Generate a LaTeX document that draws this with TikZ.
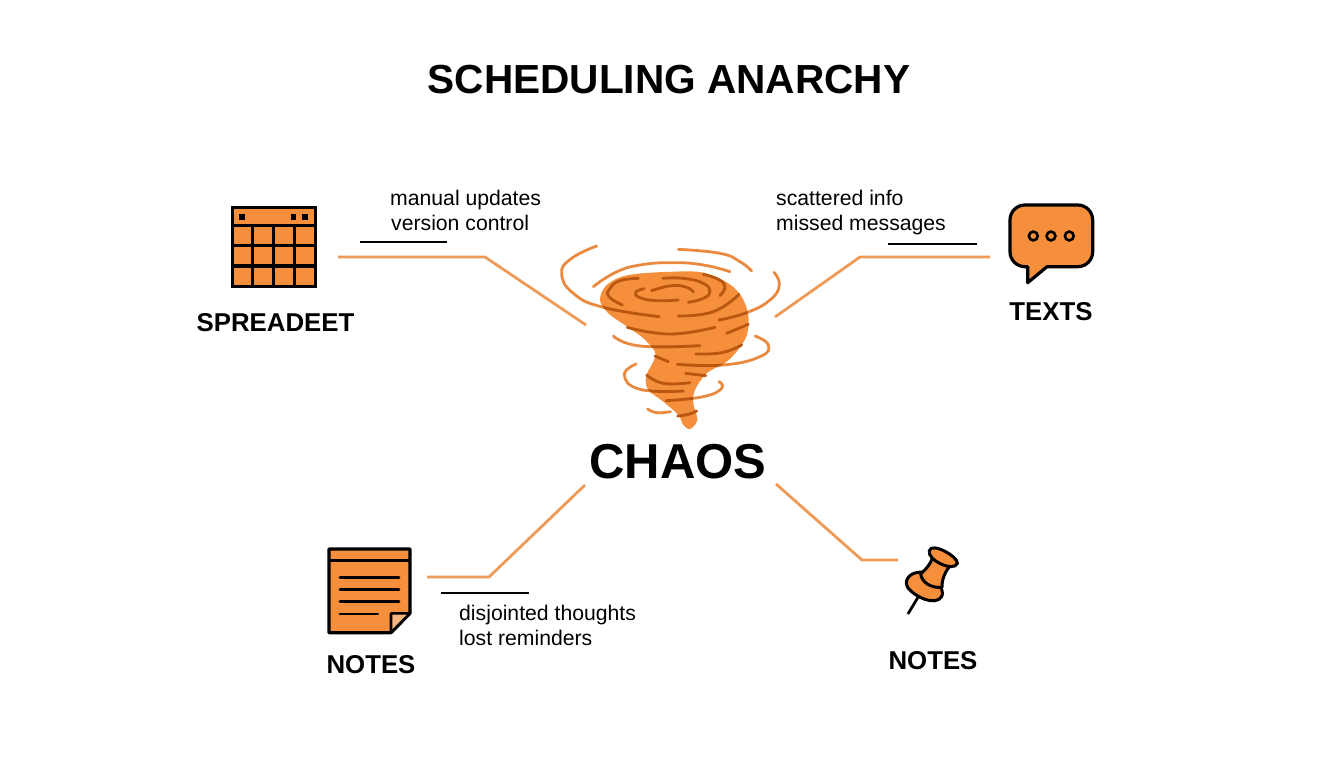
\documentclass[tikz,border=0pt]{standalone}
\usepackage{fontspec}
\setmainfont{Liberation Sans}
\definecolor{icon}{HTML}{F58F3B}
\definecolor{wire}{HTML}{F09A57}
\definecolor{gust}{HTML}{E98A40}
\definecolor{streak}{HTML}{B9560F}
\definecolor{fold}{HTML}{F4B57F}
\def\fnt#1{\fontsize{#1}{#1}\selectfont}

% outline of the funnel and its swirling lines, in crop pixels
\def\funnelpath{plot[smooth cycle,tension=0.55] coordinates {(400,125) (490,128) (565,160) (605,200) (625,255) (622,310) (600,352) (560,395) (500,430) (465,480) (460,520) (472,570) (450,597) (430,585) (415,555) (370,515) (325,480) (318,440) (342,390) (345,365) (310,325) (262,290) (205,250) (180,210) (200,165) (265,135)}}
\def\swirlpath{
  plot[smooth,tension=0.8] coordinates {(170,48) (95,85) (65,130) (100,190) (190,232) (358,260)}
  plot[smooth,tension=0.8] coordinates {(160,170) (225,128) (300,105) (400,98) (490,105) (570,125)}
  plot[smooth,tension=0.8] coordinates {(415,58) (540,70) (600,95) (635,123)}
  plot[smooth,tension=0.8] coordinates {(702,127) (718,165) (690,210) (620,248) (537,270)}
  plot[smooth,tension=0.8] coordinates {(645,318) (685,345) (660,380) (550,405) (412,403)}
  plot[smooth,tension=0.8] coordinates {(220,318) (300,348) (480,347)}
  plot[smooth,tension=0.8] coordinates {(288,402) (253,435) (300,478) (430,483)}
  plot[smooth,tension=0.8] coordinates {(537,455) (545,475) (490,500) (378,512)}
  plot[smooth,tension=0.8] coordinates {(323,537) (350,548) (392,545)}
}

\begin{document}
\begin{tikzpicture}[
    x=1pt,y=-1pt,
    wirelink/.style={wire,line width=2.8pt,line join=round},
    rule/.style={black,line width=2.4pt},
    iconline/.style={black,line width=3.2pt,line join=round},
    noteline/.style={black,line width=2.8pt,line cap=round},
    swirl/.style={gust,line width=2.8pt,line cap=round},
    darkswirl/.style={streak,line width=2.8pt,line cap=round},
    heading/.style={font=\fnt{25.8}\bfseries,inner sep=0pt},
    remark/.style={font=\fnt{21.2},inner sep=0pt,anchor=base west}]

  \useasboundingbox (0,0) rectangle (1344,768);

  \node[font=\fnt{40.6}\bfseries,inner sep=0pt] (title) at (669,80) {SCHEDULING ANARCHY};
  \node[font=\fnt{49}\bfseries,inner sep=0pt] (chaos) at (678,462) {CHAOS};

  \node[heading] (sheetlabel) at (275.5,323) {SPREADEET};
  \node[heading] (textlabel) at (1051,312) {TEXTS};
  \node[heading] (notelabel) at (371,665) {NOTES};
  \node[heading] (pinlabel) at (933,661) {NOTES};

  \node[remark] (manual) at (390,205) {manual updates};
  \node[remark] (version) at (391,230) {version control};
  \node[remark] (scattered) at (776,205) {scattered info};
  \node[remark] (missed) at (776,230) {missed messages};
  \node[remark] (disjointed) at (459,620) {disjointed thoughts};
  \node[remark] (lost) at (459,645) {lost reminders};

  % connectors
  \coordinate (sheetA) at (338,257);
  \coordinate (sheetB) at (485,257);
  \coordinate (sheetC) at (586,325);
  \coordinate (textA) at (990,257);
  \coordinate (textB) at (860,257);
  \coordinate (textC) at (775,317);
  \coordinate (noteA) at (427,577);
  \coordinate (noteB) at (489,577);
  \coordinate (noteC) at (585,485);
  \coordinate (pinA) at (898,560);
  \coordinate (pinB) at (862,560);
  \coordinate (pinC) at (776,484);

  \draw[wirelink] (sheetA) -- (sheetB) -- (sheetC);
  \draw[wirelink] (textA) -- (textB) -- (textC);
  \draw[wirelink] (noteA) -- (noteB) -- (noteC);
  \draw[wirelink] (pinA) -- (pinB) -- (pinC);

  \coordinate (ruleA) at (360,242);
  \coordinate (ruleB) at (447,242);
  \coordinate (ruleC) at (888,244);
  \coordinate (ruleD) at (977,244);
  \coordinate (ruleE) at (441,593);
  \coordinate (ruleF) at (529,593);

  \draw[rule] (ruleA) -- (ruleB);
  \draw[rule] (ruleC) -- (ruleD);
  \draw[rule] (ruleE) -- (ruleF);

  % tornado
  \begin{scope}[shift={(540,230)},x=1/3*1pt,y=-1/3*1pt]
    \fill[icon] \funnelpath;
    \draw[swirl] \swirlpath;
    \begin{scope}
      \clip \funnelpath;
      \draw[darkswirl] \swirlpath;
    \end{scope}
    \draw[darkswirl]
      plot[smooth,tension=0.8] coordinates {(295,145) (240,152) (210,175) (207,200) (247,225)}
      plot[smooth,tension=0.8] coordinates {(368,145) (430,145) (490,160) (510,185) (490,205) (445,217)}
      plot[smooth,tension=0.8] coordinates {(490,133) (535,148) (555,170) (540,197)}
      plot[smooth,tension=0.8] coordinates {(312,176) (287,187) (300,203) (350,212) (415,210)}
      plot[smooth,tension=0.8] coordinates {(335,182) (395,167) (440,172) (460,186)}
      plot[smooth,tension=0.8] coordinates {(415,258) (520,245) (597,193)}
      plot[smooth,tension=0.8] coordinates {(262,292) (390,312) (525,292)}
      plot[smooth,tension=0.8] coordinates {(560,310) (625,283)}
      plot[smooth,tension=0.8] coordinates {(467,372) (545,368) (605,345)}
      plot[smooth,tension=0.8] coordinates {(345,378) (385,395)}
      plot[smooth,tension=0.8] coordinates {(437,430) (497,437)}
      plot[smooth,tension=0.8] coordinates {(320,435) (370,460) (450,458)}
      plot[smooth,tension=0.8] coordinates {(413,558) (445,553) (470,543)};
  \end{scope}

  % spreadsheet
  \filldraw[icon,draw=black,line width=3.2pt] (232.3,207.3) rectangle (315.7,286.7);
  \draw[iconline]
    (232.3,225.7) -- (315.7,225.7)
    (232.3,245.7) -- (315.7,245.7)
    (232.3,266) -- (315.7,266)
    (252.7,225.7) -- (252.7,286.7)
    (273.3,225.7) -- (273.3,286.7)
    (294.3,225.7) -- (294.3,286.7);
  \fill[black] (239,214) rectangle +(5.5,5.5);
  \fill[black] (290.5,214) rectangle +(5.5,5.5);
  \fill[black] (302,214) rectangle +(5.5,5.5);

  % speech bubble
  \filldraw[icon,draw=black,line width=3.2pt,line join=round,rounded corners=15pt]
    (1047,266.7) -- (1092.7,266.7) -- (1092.7,205) -- (1010,205) -- (1010,266.7)
    [sharp corners] -- (1027.7,266.7) -- (1027.7,282.7) -- cycle;
  \draw[black,line width=2.6pt]
    (1033.3,236) circle [radius=4.4]
    (1051,236) circle [radius=4.4]
    (1069.3,236) circle [radius=4.4];

  % note
  \filldraw[icon,draw=black,line width=3.2pt,line join=round]
    (329,549) -- (410,549) -- (410,613.3) -- (391,632.7) -- (329,632.7) -- cycle;
  \filldraw[fold,draw=black,line width=2.6pt,line join=round]
    (410,613.3) -- (391,613.3) -- (391,632.7) -- cycle;
  \draw[iconline]
    (329,560.7) -- (410,560.7);
  \draw[noteline]
    (340,577.3) -- (399,577.3)
    (340,589.3) -- (399,589.3)
    (340,601.7) -- (399,601.7)
    (340,614) -- (377.7,614);

  % push pin
  \begin{scope}[shift={(880,530)},x=1/3*1pt,y=-1/3*1pt]
    \draw[black,line width=2.8pt,line cap=round] (115,200) -- (85,250);
    \filldraw[icon,draw=black,line width=3pt]
      (115,127) .. controls (85,130) and (70,155) .. (85,175)
      .. controls (105,200) and (165,230) .. (185,200)
      .. controls (195,180) and (170,140) .. (135,128)
      .. controls (128,125) and (122,126) .. (115,127) -- cycle;
    \filldraw[icon,draw=black,line width=3pt,line join=round]
      (157,85) .. controls (150,105) and (135,120) .. (122,132)
      .. controls (125,155) and (150,175) .. (186,172)
      .. controls (185,150) and (195,125) .. (210,108) -- cycle;
    \filldraw[icon,draw=black,line width=3pt]
      (148,62) .. controls (155,35) and (235,80) .. (232,100)
      .. controls (222,128) and (140,90) .. (148,62) -- cycle;
  \end{scope}
\end{tikzpicture}
\end{document}
